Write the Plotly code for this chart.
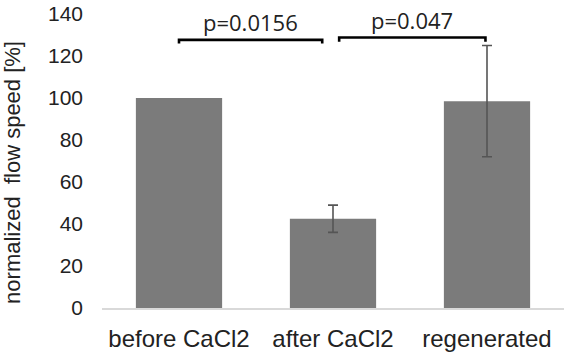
import plotly.graph_objects as go

categories = ["before CaCl2", "after CaCl2", "regenerated"]
values = [100, 42.5, 98.5]
errors = [0, 6.5, 26.5]
y_ticks = [0, 20, 40, 60, 80, 100, 120, 140]

# significance brackets
brackets_x0 = [0.0, 1.04]
brackets_x1 = [0.93, 1.99]
brackets_y = [127.7, 128.8]
brackets_drop = [1.8, 2.0]
p_labels = ["p=0.0156", "p=0.047"]

W, H = 566, 354
L, R, T, B = 102, 2, 13, 45

xs = list(range(len(categories)))
fig = go.Figure()
fig.add_trace(go.Bar(
    x=xs, y=values,
    marker=dict(color="#7b7b7b", line=dict(width=0)),
    width=0.56,
))
err_idx = [i for i, e in enumerate(errors) if e]
fig.add_trace(go.Scatter(
    x=[xs[i] for i in err_idx], y=[values[i] for i in err_idx],
    mode="markers", marker=dict(size=1, opacity=0),
    error_y=dict(type="data", array=[errors[i] for i in err_idx], visible=True,
                 color="#555555", thickness=1.6, width=5),
    hoverinfo="skip",
))

for x0, x1, y, d, lab in zip(brackets_x0, brackets_x1, brackets_y, brackets_drop, p_labels):
    fig.add_shape(type="path",
                  path=f"M {x0} {y-d} L {x0} {y} L {x1} {y} L {x1} {y-d}",
                  xref="x", yref="y", line=dict(color="black", width=2.6))
    fig.add_annotation(x=(x0 + x1) / 2, y=y, xref="x", yref="y",
                       text=lab, showarrow=False, yanchor="bottom", yshift=1,
                       font=dict(family="Open Sans", size=22, color="#222222"))

fig.add_annotation(text="normalized  flow speed [%]", textangle=-90,
                   xref="paper", yref="paper",
                   x=(13 - L) / (W - L - R), y=(H - B - 173) / (H - T - B),
                   xanchor="center", yanchor="middle", showarrow=False,
                   font=dict(family="Liberation Sans", size=22, color="#222222"))

fig.update_layout(
    width=W, height=H,
    margin=dict(l=L, r=R, t=T, b=B, pad=0),
    paper_bgcolor="white", plot_bgcolor="white",
    showlegend=False,
    xaxis=dict(tickmode="array", tickvals=xs,
               ticktext=categories, range=[-0.5, 2.5],
               showline=True, linecolor="#d9d9d9", linewidth=1.5,
               showgrid=False, zeroline=False, ticks="",
               ticklabelstandoff=8,
               tickfont=dict(family="Liberation Sans", size=24, color="#222222")),
    yaxis=dict(range=[0, 140], tickvals=y_ticks, showgrid=False,
               zeroline=False, showline=False, ticks="",
               ticklen=0, ticklabelstandoff=18,
               tickfont=dict(family="Liberation Sans", size=21, color="#222222")),
)

fig.write_html("out.html")
